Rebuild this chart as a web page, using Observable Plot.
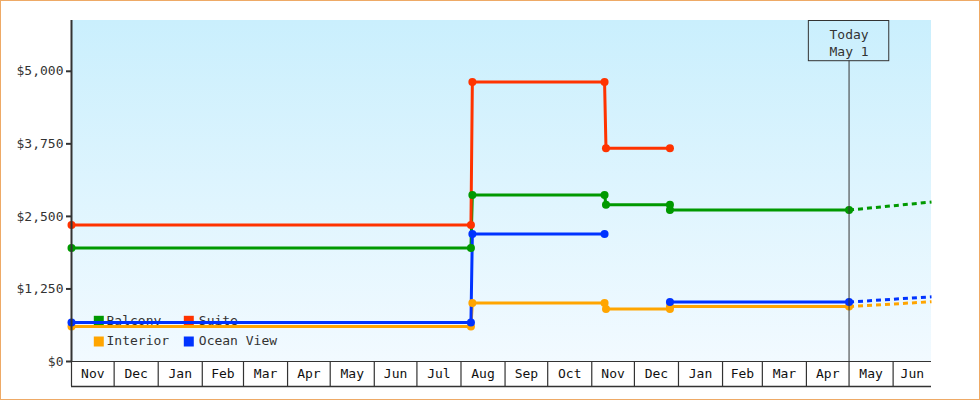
<!DOCTYPE html>
<html><head><meta charset="utf-8">
<script src="https://cdn.jsdelivr.net/npm/d3@7"></script>
<script src="https://cdn.jsdelivr.net/npm/@observablehq/plot@0.6"></script>
<style>
body{margin:0;background:#fff;}
#chart svg{display:block;outline:1px solid #eeaa66;outline-offset:-1px;}
</style></head><body><div id="chart"></div>
<script>
// ---- data ----
const xStart = "2023-11-01";
const xEnd = "2025-06-28";
const today = "2025-05-01";
const todayLabel = ["Today", "May 1"];
const yTicks = [0, 1250, 2500, 3750, 5000];
const yMax = 5875;

const seriesNames = ["Balcony", "Suite", "Interior", "Ocean View"];
const seriesColors = ["#009900", "#ff3300", "#ffa500", "#0033ff"];

const balcony = [["2023-11-01",1955],["2024-08-08",1955],["2024-08-09",2870],["2024-11-10",2870],["2024-11-11",2700],["2024-12-26",2700],["2024-12-26",2610],["2025-05-01",2610]];
const suite = [["2023-11-01",2352],["2024-08-08",2352],["2024-08-09",4817],["2024-11-10",4817],["2024-11-11",3672],["2024-12-26",3672]];
const interior = [["2023-11-01",603],["2024-08-08",603],["2024-08-09",1007],["2024-11-10",1007],["2024-11-11",903],["2024-12-26",903],["2024-12-26",948],["2025-05-01",948]];
const oceanView = [["2023-11-01",672],["2024-08-08",672],["2024-08-09",2196],["2024-11-10",2196],["2024-11-11",null],["2024-12-26",1024],["2025-05-01",1024]];

const balconyForecast = [["2025-05-01",2610],["2025-06-28",2748]];
const suiteForecast = [];
const interiorForecast = [["2025-05-01",948],["2025-06-28",1029]];
const oceanViewForecast = [["2025-05-01",1024],["2025-06-28",1115]];

// ---- build ----
const parse = d3.utcParse("%Y-%m-%d");
const actual = [balcony, suite, interior, oceanView];
const forecast = [balconyForecast, suiteForecast, interiorForecast, oceanViewForecast];
const toRows = (arr) => arr.map(([d, v]) => ({date: parse(d), price: v}));

const d0 = parse(xStart), d1 = parse(xEnd), dToday = parse(today);
const monthStarts = d3.utcMonth.range(d0, d1);
const monthMids = monthStarts.map(m => {
  const n = d3.utcMonth.offset(m, 1);
  const e = n > d1 ? d1 : n;
  return new Date((+m + +e) / 2);
});
const ink = "#333";

const background = (index, scales, values, dims) => {
  const g = d3.create("svg:g");
  const grad = g.append("defs").append("linearGradient")
    .attr("id", "skyGrad").attr("x1", 0).attr("y1", 0).attr("x2", 0).attr("y2", 1);
  grad.append("stop").attr("offset", "0%").attr("stop-color", "#caeffd");
  grad.append("stop").attr("offset", "100%").attr("stop-color", "#f2faff");
  g.append("rect")
    .attr("x", dims.marginLeft).attr("y", dims.marginTop)
    .attr("width", dims.width - dims.marginLeft - dims.marginRight)
    .attr("height", dims.height - dims.marginTop - dims.marginBottom)
    .attr("fill", "url(#skyGrad)");
  return g.node();
};

const todayBox = (index, scales, values, dims) => {
  const x = scales.x(dToday);
  const g = d3.create("svg:g");
  g.append("rect")
    .attr("x", x - 40.2).attr("y", dims.marginTop + 0.5)
    .attr("width", 80.4).attr("height", 40.2)
    .attr("fill", "none").attr("stroke", ink);
  return g.node();
};

const legendMarks = seriesNames.flatMap((name, i) => {
  const col = i % 2, row = Math.floor(i / 2);
  return [
    Plot.dot([name], {frameAnchor: "bottom-left", dx: 27.3 + col * 90, dy: -40.7 + row * 20.7,
      symbol: "square", r: 5.64, fill: seriesColors[i], stroke: "none"}),
    Plot.text([name], {frameAnchor: "bottom-left", lineAnchor: "middle", dx: 35 + col * 92.3, dy: -40.7 + row * 20.5,
      text: d => d, textAnchor: "start", fill: ink})
  ];
});

const lineMarks = actual.map((arr, i) => Plot.line(toRows(arr), {
  x: "date", y: "price", stroke: seriesColors[i], strokeWidth: 3, strokeLinejoin: "miter", strokeLinecap: "butt"
}));
const forecastMarks = forecast.map((arr, i) => Plot.line(toRows(arr), {
  x: "date", y: "price", stroke: seriesColors[i], strokeWidth: 3, strokeDasharray: "5,4", strokeLinecap: "butt"
}));
const dotMarks = actual.map((arr, i) => Plot.dot(toRows(arr).filter(d => d.price != null), {
  x: "date", y: "price", r: 4, fill: seriesColors[i], stroke: "none"
}));

const chart = Plot.plot({
  width: 980, height: 400,
  marginLeft: 71, marginRight: 49, marginTop: 20, marginBottom: 39,
  style: {fontFamily: "'DejaVu Sans Mono', monospace", fontSize: "13px", color: ink, background: "#fff", overflow: "visible"},
  x: {type: "utc", domain: [d0, d1]},
  y: {domain: [0, yMax]},
  marks: [
    background,
    ...legendMarks,
    ...lineMarks,
    ...forecastMarks,
    ...dotMarks,
    Plot.ruleX([dToday], {insetTop: 40.7, stroke: ink, strokeWidth: 1}),
    todayBox,
    Plot.text([dToday], {x: d => d, frameAnchor: "top", lineAnchor: "middle", dy: 21.3, lineHeight: 1.35,
      text: () => todayLabel.join("\n"), fill: ink}),
    Plot.ruleY([0], {stroke: ink, strokeWidth: 1}),
    Plot.ruleY([0], {stroke: ink, strokeWidth: 1.5, dy: 25}),
    Plot.ruleX([d0], {stroke: ink, strokeWidth: 2}),
    Plot.axisX({ticks: monthStarts, tickSize: 25, tickFormat: () => "", label: null, stroke: ink, strokeWidth: 1.2}),
    Plot.text(monthMids, {x: d => d, frameAnchor: "bottom", lineAnchor: "middle", dy: 12.5, text: d3.utcFormat("%b"), fill: "#111"}),
    Plot.axisY({ticks: yTicks, tickFormat: d3.format("$,"), label: null, tickSize: 5, tickPadding: 3, stroke: ink, strokeWidth: 2})
  ]
});
document.getElementById("chart").appendChild(chart);
</script>
</body></html>
